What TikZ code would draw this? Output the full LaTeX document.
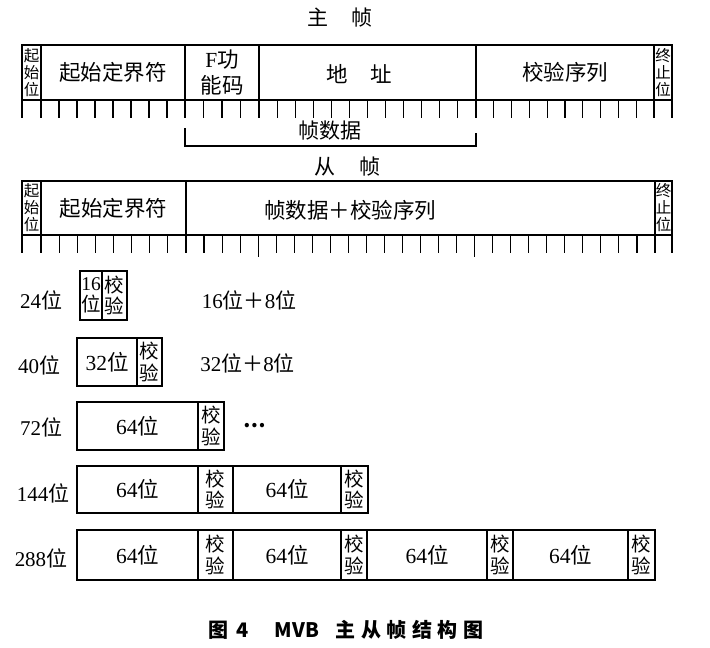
\documentclass[tikz,border=0pt]{standalone}
\usepackage{fontspec}
\setmainfont{Liberation Serif}
\newfontfamily\cjk{Noto Sans CJK SC}
\newcommand\num[1]{{\rmfamily #1}}
\newcommand\wei{{\cjk 位}}
\tikzset{
  cell/.style={draw, line width=1.2pt, inner sep=0pt, outer sep=0pt, align=center,
    font=\cjk\fontsize{21.5}{26}\selectfont},
  tinytxt/.style={font=\cjk\fontsize{15.5}{17}\selectfont},
  chk/.style={font=\cjk\fontsize{19.5}{21.5}\selectfont},
  lbl/.style={inner sep=0pt, font=\fontsize{21}{24}\selectfont},
  ttl/.style={inner sep=0pt, font=\cjk\fontsize{21}{24}\selectfont},
  tickline/.style={line width=1.1pt},
}
\begin{document}
\begin{tikzpicture}[x=1pt,y=-1pt]
\useasboundingbox[fill=white] (0,0) rectangle (710,648);

% ---------- master frame ----------
\node[ttl] (mt) at (340,18) {主\hspace{24pt}帧};
\node[cell,tinytxt,minimum width=19pt,minimum height=55pt] (ms) at (31.5,72.5) {起\\始\\位};
\node[cell,minimum width=144pt,minimum height=55pt] (msd) at (113,72.5) {起始定界符};
\node[cell,minimum width=74pt,minimum height=55pt] (mf) at (222,72.5) {\num{F}功\\能码};
\node[cell,minimum width=217pt,minimum height=55pt] (ma) at (367.5,72.5) {};
\node[ttl,font=\cjk\fontsize{21.5}{26}\selectfont] (mat) at (359.5,74) {地\hspace{23pt}址};
\node[cell,minimum width=178pt,minimum height=55pt] (mc) at (565,72.5) {校验序列};
\node[cell,tinytxt,minimum width=18pt,minimum height=55pt] (me) at (663,72.5) {终\\止\\位};
\foreach \a/\b/\n in {22/41/1,41/185/8,185/259/4,259/476/12,476/654/10,654/672/1}{
  \foreach \i in {0,...,\n}{
    \draw[tickline] ({\a+(\b-\a)*\i/\n},100) -- ++(0,18);
  }
}
\coordinate (b1) at (185,128);
\coordinate (b2) at (185,146);
\coordinate (b3) at (476,146);
\coordinate (b4) at (476,133);
\draw[line width=1.1pt] (b1) -- (b2) -- (b3) -- (b4);
\node[ttl] (bl) at (330,131) {帧数据};

% ---------- slave frame ----------
\node[ttl] (st) at (347.5,167) {从\hspace{24pt}帧};
\node[cell,tinytxt,minimum width=19pt,minimum height=54pt] (ss) at (31.5,208) {起\\始\\位};
\node[cell,minimum width=145pt,minimum height=54pt] (ssd) at (113.5,208) {起始定界符};
\node[cell,minimum width=469pt,minimum height=54pt] (sd) at (420.5,208) {};
\node[ttl,font=\cjk\fontsize{21.5}{26}\selectfont] (sdt) at (350,210) {帧数据＋校验序列};
\node[cell,tinytxt,minimum width=17pt,minimum height=54pt] (se) at (663.5,208) {终\\止\\位};
\foreach \a/\b/\n in {22/41/1,41/186/8,186/655/26,655/672/1}{
  \foreach \i in {0,...,\n}{
    \draw[tickline] ({\a+(\b-\a)*\i/\n},235) -- ++(0,18);
  }
}
\draw[tickline] (258.2,235) -- (258.2,257);
\draw[tickline] (474.7,235) -- (474.7,257);

% ---------- 24 bit ----------
\node[lbl] (l24) at (41,300) {24\wei};
\node[cell,chk,minimum width=22pt,minimum height=49pt] (r1a) at (91,295.5) {\num{16}\\位};
\node[cell,chk,minimum width=25pt,minimum height=49pt] (r1b) at (114.5,295.5) {校\\验};
\node[lbl] (t24) at (249,300) {16\wei{\cjk ＋}8\wei};

% ---------- 40 bit ----------
\node[lbl] (l40) at (39,365) {40\wei};
\node[cell,minimum width=60pt,minimum height=48pt] (r2a) at (107,362) {\num{32}位};
\node[cell,chk,minimum width=25pt,minimum height=48pt] (r2b) at (149.5,362) {校\\验};
\node[lbl] (t40) at (247.5,363) {32\wei{\cjk ＋}8\wei};

% ---------- 72 bit ----------
\node[lbl] (l72) at (41,427) {72\wei};
\node[cell,minimum width=121pt,minimum height=48pt] (r3a) at (137.5,426) {\num{64}位};
\node[cell,chk,minimum width=26pt,minimum height=48pt] (r3b) at (211,426) {校\\验};
\node[inner sep=0pt,font=\cjk\bfseries\fontsize{20}{24}\selectfont] (dots) at (255,426) {…};

% ---------- 144 bit ----------
\node[lbl] (l144) at (43,493) {144\wei};
\node[cell,minimum width=121pt,minimum height=47pt] (r4a) at (137.5,489.5) {\num{64}位};
\node[cell,chk,minimum width=35pt,minimum height=47pt] (r4b) at (215.5,489.5) {校\\验};
\node[cell,minimum width=108pt,minimum height=47pt] (r4c) at (287,489.5) {\num{64}位};
\node[cell,chk,minimum width=27pt,minimum height=47pt] (r4d) at (354.5,489.5) {校\\验};

% ---------- 288 bit ----------
\node[lbl] (l288) at (41,558) {288\wei};
\node[cell,minimum width=121pt,minimum height=50pt] (r5a) at (137.5,555) {\num{64}位};
\node[cell,chk,minimum width=35pt,minimum height=50pt] (r5b) at (215.5,555) {校\\验};
\node[cell,minimum width=108pt,minimum height=50pt] (r5c) at (287,555) {\num{64}位};
\node[cell,chk,minimum width=26pt,minimum height=50pt] (r5d) at (354,555) {校\\验};
\node[cell,minimum width=120pt,minimum height=50pt] (r5e) at (427,555) {\num{64}位};
\node[cell,chk,minimum width=26pt,minimum height=50pt] (r5f) at (500,555) {校\\验};
\node[cell,minimum width=115pt,minimum height=50pt] (r5g) at (570.5,555) {\num{64}位};
\node[cell,chk,minimum width=27pt,minimum height=50pt] (r5h) at (641.5,555) {校\\验};

% ---------- caption ----------
\node[inner sep=0pt,font=\cjk\bfseries\fontsize{20}{24}\selectfont] (cap) at (346,630)
  {图\hspace{8pt}4\hspace{26pt}MVB\hspace{17pt}主\hspace{5.5pt}从\hspace{5.5pt}帧\hspace{5.5pt}结\hspace{5.5pt}构\hspace{5.5pt}图};
\end{tikzpicture}
\end{document}
